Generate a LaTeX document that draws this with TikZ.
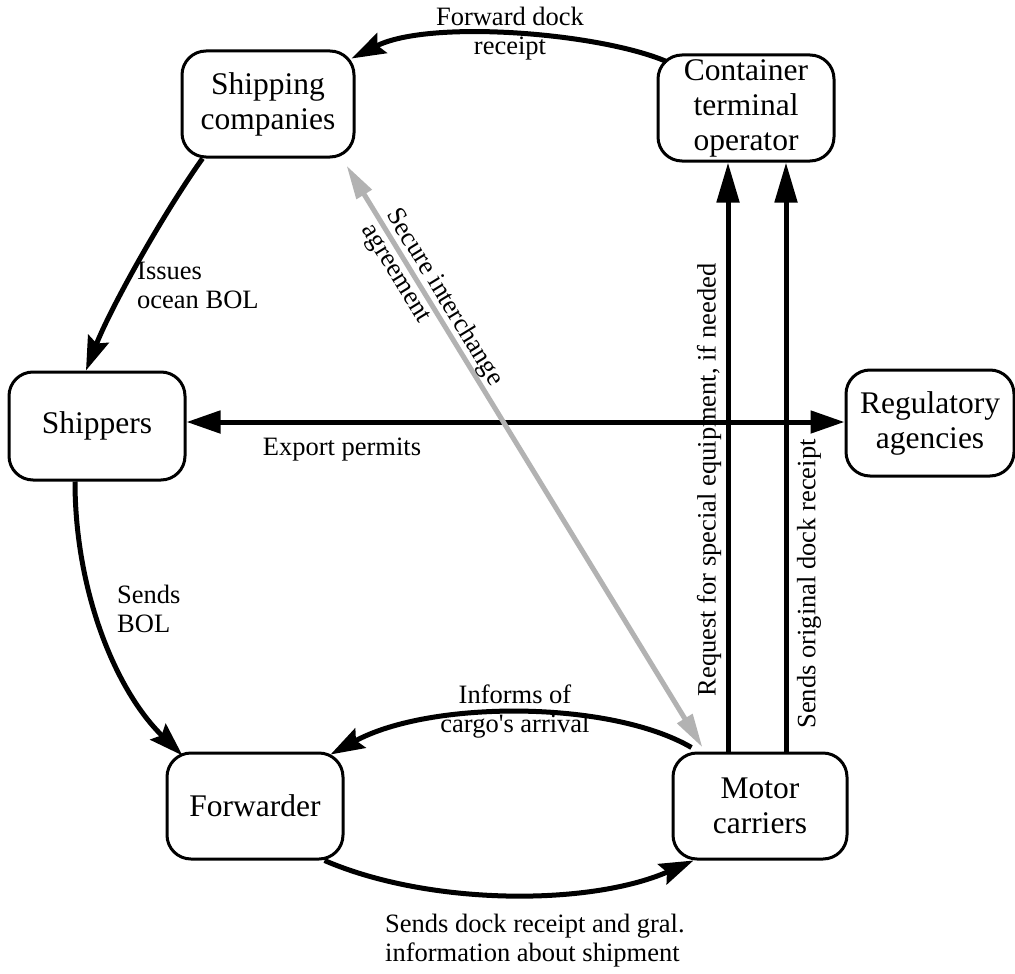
\documentclass[tikz,border=0pt]{standalone}
\usepackage{fontspec}
\setmainfont{Liberation Serif}
\usetikzlibrary{arrows.meta}
\begin{document}
\begin{tikzpicture}[x=1pt,y=-1pt,
  box/.style={draw, line width=3pt, rounded corners=24pt, minimum width=176pt,
    minimum height=106pt, inner sep=0pt, align=center,
    font=\fontsize{31.5}{35}\selectfont},
  lbl/.style={font=\fontsize{26.5}{29}\selectfont, inner sep=0pt},
  tip/.tip={Triangle[length=34pt,width=22pt]},
  bend tip/.tip={Stealth[length=34pt,width=22pt,inset=5pt]},
  long tip/.tip={Triangle[length=40pt,width=22pt]},
  flow/.style={line width=5pt, -bend tip},
  rise/.style={line width=5pt, -long tip},
  both/.style={line width=5pt, tip-tip},
  secure/.style={line width=5pt, draw=gray!60,
    {Triangle[length=34pt,width=17pt,fill=gray!60]}-{Triangle[length=34pt,width=17pt,fill=gray!60]}}]

\fill[white] (0,0) rectangle (1015,974);
\useasboundingbox (0,0) rectangle (1015,974);

% parties
\node[box, minimum width=172pt] (ship) at (268,104) {Shipping\\companies};
\node[box] (cto) at (746,108) {Container\\terminal\\operator};
\node[box, minimum height=108pt] (shippers) at (97,426) {Shippers};
\node[box, minimum width=168pt] (reg) at (930,423) {Regulatory\\agencies};
\node[box] (fwd) at (255,806) {Forwarder};
\node[box, minimum width=174pt] (motor) at (760,806) {Motor\\carriers};

% terminal -> shipping companies
\draw[flow] ([shift={(10,8)}]cto.north west) .. controls (600,33) and (430,19) .. ([shift={(-4,9)}]ship.north east);
\node[lbl, align=center] (fdr) at (510,34) {Forward dock\\receipt};

% shipping companies -> shippers
\draw[flow] ([xshift=22]ship.south west) .. controls (163,214) and (111,307) .. ([xshift=-11]shippers.north);
\node[lbl, align=left, anchor=west] (iob) at (137,285) {Issues\\ocean BOL};

% shippers -> forwarder
\draw[flow] ([xshift=-22]shippers.south) .. controls (75,590) and (115,690) .. ([shift={(17,4)}]fwd.north west);
\node[lbl, align=left, anchor=west] (sbol) at (117,609) {Sends\\BOL};

% shippers <-> regulatory agencies
\coordinate (ep) at (0,422);
\draw[both] (shippers.east |- ep) -- (reg.west |- ep);
\node[lbl] (exp) at (342,450) {Export permits};

% motor carriers -> forwarder
\draw[flow] ([shift={(20,-4)}]motor.north west) .. controls (610,700) and (430,700) .. ([shift={(-14,3)}]fwd.north east);
\node[lbl, align=center] (inf) at (515,712) {Informs of\\cargo\textquotesingle s arrival};

% forwarder -> motor carriers
\draw[flow] ([xshift=-20]fwd.south east) .. controls (430,906) and (590,906) .. ([xshift=22]motor.south west);
\node[lbl, align=left, anchor=north west] (sdr) at (385,914) {Sends dock receipt and gral.\\information about shipment};

% motor carriers -> terminal
\coordinate (va) at (728,0);
\coordinate (vb) at (786,0);
\draw[rise] (motor.north -| va) -- (cto.south -| va);
\draw[rise] (motor.north -| vb) -- (cto.south -| vb);
\node[lbl, rotate=90] (req) at (709,480) {Request for special equipment, if needed};
\node[lbl, rotate=90] (sod) at (809,584) {Sends original dock receipt};

% interchange agreement
\draw[secure] ([shift={(-9,7)}]ship.south east) -- node[lbl, sloped, pos=0.24, align=left] (sia) {Secure interchange\\agreement} ([shift={(31,-4)}]motor.north west);
\end{tikzpicture}
\end{document}
